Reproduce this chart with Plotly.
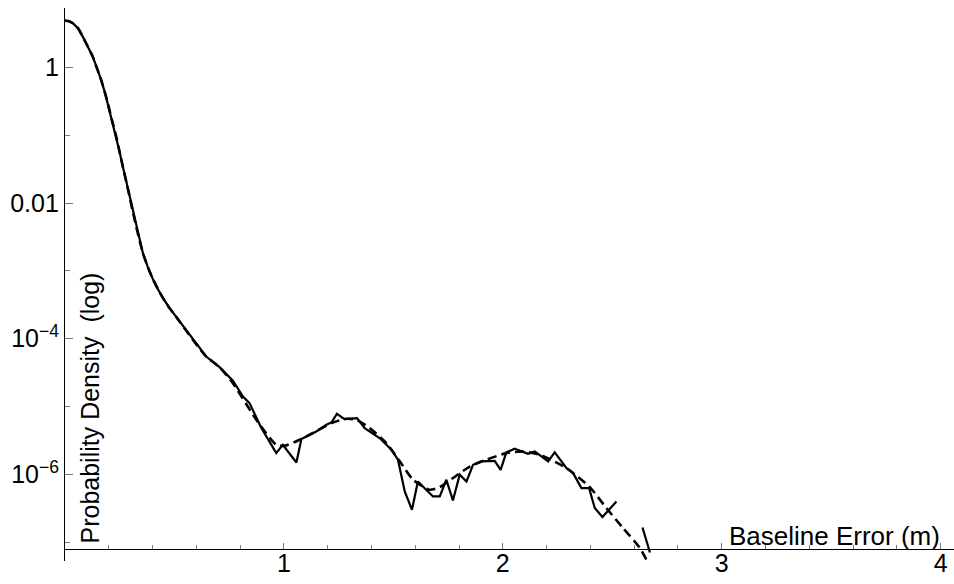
import plotly.graph_objects as go

# Empirical (histogram) density — solid line
x_data = [0.0, 0.018, 0.036, 0.060, 0.081, 0.104, 0.127, 0.146, 0.165, 0.184, 0.203, 0.218,
          0.234, 0.249, 0.264, 0.280, 0.295, 0.310, 0.325, 0.341, 0.356, 0.378, 0.401,
          0.424, 0.447, 0.477, 0.508, 0.584, 0.645, 0.706, 0.767, 0.813, 0.843, 0.897, 0.965,
          0.995, 1.057, 1.080, 1.148, 1.194, 1.217, 1.242, 1.277, 1.334, 1.369, 1.437,
          1.491, 1.521, 1.552, 1.585, 1.612, 1.681, 1.712, 1.742, 1.772, 1.803, 1.834,
          1.864, 1.902, 1.963, 1.990, 2.016, 2.054, 2.115, 2.146, 2.207, 2.237, 2.291,
          2.321, 2.359, 2.394, 2.420, 2.455, 2.519, None, 2.638, 2.672]
y_data = [4.93, 4.85, 4.52, 3.8, 2.87, 2.05, 1.45, 0.98, 0.659, 0.41, 0.238, 0.152,
          0.096, 0.058, 0.0347, 0.0208, 0.0125, 0.0075, 0.00452, 0.0028, 0.00183, 0.00115, 0.000764,
          0.000543, 0.000400, 0.000285, 0.000210, 0.0000963, 0.0000546, 0.0000380, 0.0000240, 0.0000140, 0.0000112, 0.0000048, 0.00000205,
          2.72e-6, 1.49e-6, 3.31e-6, 4.28e-6, 5.37e-6, 5.81e-6, 7.80e-6, 6.52e-6, 6.74e-6, 4.80e-6, 3.42e-6,
          2.30e-6, 1.64e-6, 5.58e-7, 2.99e-7, 7.83e-7, 4.71e-7, 4.71e-7, 8.30e-7, 4.11e-7, 9.84e-7, 7.83e-7,
          1.38e-6, 1.55e-6, 1.58e-6, 1.16e-6, 2.10e-6, 2.38e-6, 2.01e-6, 2.17e-6, 1.55e-6, 2.10e-6, 1.23e-6,
          1.04e-6, 6.25e-7, 6.25e-7, 3.17e-7, 2.34e-7, 3.97e-7, None, 1.64e-7, 7.0e-8]

# Fitted model density — dashed line
x_fit = [0.0, 0.018, 0.036, 0.060, 0.081, 0.104, 0.127, 0.146, 0.165, 0.184, 0.203, 0.218,
         0.234, 0.249, 0.264, 0.280, 0.295, 0.310, 0.325, 0.341, 0.356, 0.378, 0.401,
         0.424, 0.447, 0.477, 0.508, 0.584, 0.645, 0.706, 0.767, 0.874, 0.965, 1.003, 1.072,
         1.133, 1.224, 1.285, 1.331, 1.392, 1.468, 1.529, 1.590, 1.666, 1.712, 1.772,
         1.849, 1.925, 2.016, 2.092, 2.169, 2.291, 2.397, 2.473, 2.549, 2.626, 2.659, 2.700]
y_fit = [4.93, 4.85, 4.52, 3.8, 2.87, 2.05, 1.45, 0.98, 0.659, 0.41, 0.238, 0.152,
         0.096, 0.058, 0.0347, 0.0208, 0.0125, 0.0075, 0.00452, 0.0028, 0.00183, 0.00115, 0.000764,
         0.000543, 0.000400, 0.000285, 0.000210, 0.0000963, 0.0000546, 0.0000380, 0.0000221, 6.37e-6, 2.72e-6, 2.63e-6, 3.23e-6,
         4.06e-6, 5.81e-6, 6.59e-6, 6.37e-6, 4.80e-6, 2.88e-6, 1.55e-6, 8.30e-7, 5.90e-7, 6.47e-7, 8.79e-7,
         1.30e-6, 1.64e-6, 2.05e-6, 2.17e-6, 1.94e-6, 1.23e-6, 6.47e-7, 3.17e-7, 1.61e-7, 8.2e-8, 5.2e-8, 2.5e-8]

y_tick_vals = [1, 0.01, 1e-4, 1e-6]
y_tick_text = ["1", "0.01", "10<sup>\u22124</sup>", "10<sup>\u22126</sup>"]
y_minor_vals = [0.1, 1e-3, 1e-5, 1e-7]
x_tick_vals = [1, 2, 3, 4]
x_tick_text = ["1", "2", "3", "4"]
x_minor_vals = [0.2, 0.4, 0.6, 0.8, 1.2, 1.4, 1.6, 1.8, 2.2, 2.4, 2.6, 2.8,
                3.2, 3.4, 3.6, 3.8, 4.0]

FONT = "Liberation Sans, Arial, sans-serif"
Y_LO, Y_HI = -7.28, 0.88
X_AXIS_LOG = -7.103
x_axis_pos = (X_AXIS_LOG - Y_LO) / (Y_HI - Y_LO)

fig = go.Figure()
fig.add_trace(go.Scatter(x=x_data, y=y_data, mode="lines",
                         line=dict(color="black", width=2.2), connectgaps=False,
                         showlegend=False))
fig.add_trace(go.Scatter(x=x_fit, y=y_fit, mode="lines",
                         line=dict(color="black", width=2.6, dash="9px,5px", shape="spline", smoothing=0.6),
                         showlegend=False))

fig.update_layout(
    width=954, height=584,
    margin=dict(l=65, r=0, t=8, b=23),
    paper_bgcolor="white", plot_bgcolor="white",
    font=dict(family=FONT, size=25, color="black"),
    xaxis=dict(range=[0, 4.061], anchor="free", position=x_axis_pos,
               showline=True, linecolor="black", linewidth=1.2,
               showgrid=False, zeroline=False,
               tickmode="array", tickvals=x_tick_vals, ticktext=x_tick_text,
               ticks="inside", ticklen=6, tickcolor="#777", tickwidth=1,
               ticklabelstandoff=-8,
               tickfont=dict(family=FONT, size=25, color="black"),
               minor=dict(tickmode="array", tickvals=x_minor_vals, ticks="inside",
                          ticklen=3.5, tickcolor="#777", tickwidth=1, showgrid=False)),
    yaxis=dict(type="log", range=[Y_LO, Y_HI],
               showline=True, linecolor="black", linewidth=1.2,
               showgrid=False, zeroline=False,
               tickmode="array", tickvals=y_tick_vals, ticktext=y_tick_text,
               ticks="inside", ticklen=8, tickcolor="#777", tickwidth=1,
               tickfont=dict(family=FONT, size=25, color="black"),
               minor=dict(tickmode="array", tickvals=y_minor_vals, ticks="inside",
                          ticklen=5, tickcolor="#777", tickwidth=1, showgrid=False)),
    annotations=[
        dict(text="Probability Density  (log)", textangle=-90,
             xref="paper", yref="paper", x=0, y=x_axis_pos,
             xanchor="left", yanchor="bottom", xshift=9, yshift=3,
             showarrow=False, font=dict(family=FONT, size=25, color="black")),
        dict(text="Baseline Error (m)",
             xref="paper", yref="paper", x=0.986, y=x_axis_pos,
             xanchor="right", yanchor="bottom", yshift=-4,
             showarrow=False, font=dict(family=FONT, size=26, color="black")),
    ],
)

fig.write_html("out.html")
